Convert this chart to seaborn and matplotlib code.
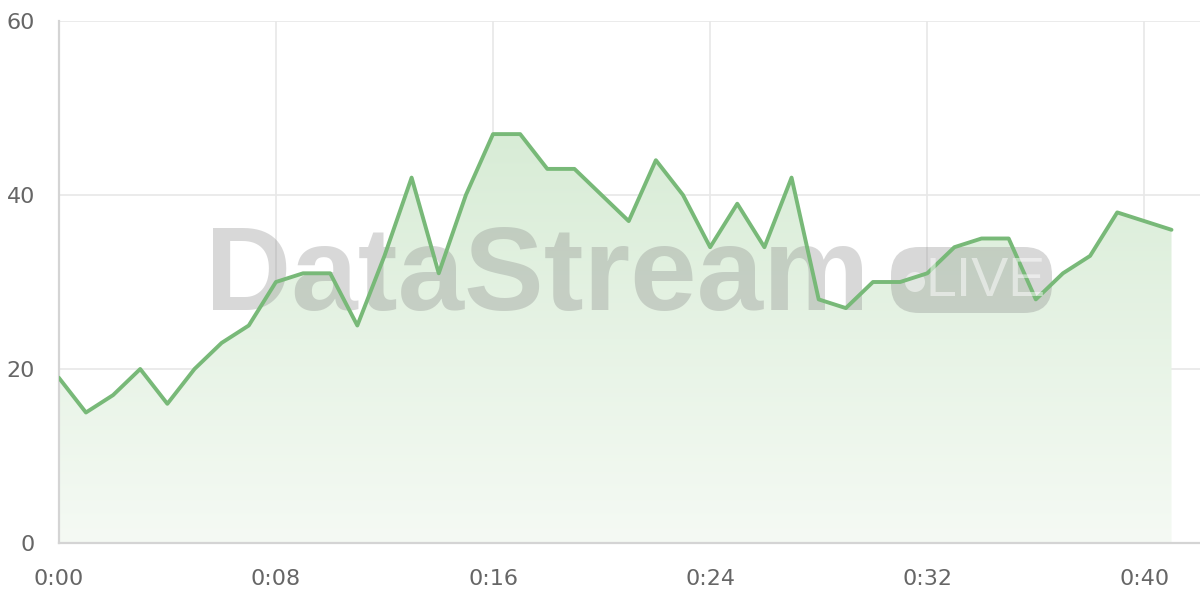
import numpy as np
import pandas as pd
import matplotlib
matplotlib.use("Agg")
import matplotlib.pyplot as plt
import seaborn as sns
from matplotlib.patches import FancyBboxPatch, Circle, Polygon

# data: one reading per minute, 0:00 .. 0:41
minutes = list(range(42))
values = [19, 15, 17, 20, 16, 20, 23, 25, 30, 31, 31, 25, 33, 42, 31, 40, 47, 47, 43, 43,
          40, 37, 44, 40, 34, 39, 34, 42, 28, 27, 30, 30, 31, 34, 35, 35, 28, 31, 33, 38,
          37, 36]
x_ticks = [0, 8, 16, 24, 32, 40]
x_labels = ["0:00", "0:08", "0:16", "0:24", "0:32", "0:40"]
y_ticks = [0, 20, 40, 60]

df = pd.DataFrame({"minute": minutes, "value": values})

sns.set_theme(style="white")
plt.rcParams["font.family"] = ["DejaVu Sans"]

fig = plt.figure(figsize=(12, 6), dpi=100)
ax = fig.add_axes([0.049, 0.095, 0.951, 0.87])

line_color = "#78b978"

# gradient fill under the line
grad = np.linspace(0.0, 1.0, 256).reshape(-1, 1)
cmap = matplotlib.colors.LinearSegmentedColormap.from_list(
    "g", ["#f5faf4", "#d8ecd6"])
img = ax.imshow(grad, extent=[0, 41, 0, max(values)], origin="lower",
                aspect="auto", cmap=cmap, zorder=1)
poly = Polygon(np.column_stack([[0] + minutes + [41], [0] + values + [0]]),
               closed=True, transform=ax.transData, facecolor="none", edgecolor="none")
ax.add_patch(poly)
img.set_clip_path(poly)

# watermark
ax.text(0.128, 0.505, "DataStream", transform=ax.transAxes, fontsize=86,
        fontweight="bold", family="Liberation Sans", color="#808080", alpha=0.3,
        ha="left", va="center", zorder=2)
pill = FancyBboxPatch((891, 600 - 313), 161, 66, boxstyle="round,pad=0,rounding_size=28",
                      transform=None, facecolor="#808080", alpha=0.3,
                      edgecolor="none", zorder=2)
ax.add_artist(pill)
ax.add_artist(Circle((915, 600 - 282), 10, transform=None, facecolor="white",
                     alpha=0.5, edgecolor="none", zorder=2))
fig.text(986 / 1200, 1 - 282 / 600, "LIVE", fontsize=40,
         family=["Liberation Sans Narrow", "Liberation Sans"],
         color="white", alpha=0.5, ha="center", va="center", zorder=3)

sns.lineplot(data=df, x="minute", y="value", ax=ax, color=line_color,
             linewidth=2.8, zorder=4)

ax.set_xlim(0, 42.05)
ax.set_ylim(0, 60)
ax.set_xticks(x_ticks)
ax.set_xticklabels(x_labels)
ax.set_yticks(y_ticks)
ax.set_xlabel("")
ax.set_ylabel("")

ax.grid(True, color="#e8e8e8", linewidth=1.2, zorder=0)
ax.set_axisbelow(True)
for side in ["top", "right"]:
    ax.spines[side].set_visible(False)
ax.spines["left"].set_color("#d4d4d4")
ax.spines["bottom"].set_color("#d4d4d4")
ax.spines["left"].set_linewidth(1.6)
ax.spines["bottom"].set_linewidth(1.6)
ax.tick_params(axis="both", which="both", length=11, width=1.2, color="#e8e8e8",
               labelsize=16, labelcolor="#666666")
ax.tick_params(axis="x", pad=8)
ax.tick_params(axis="y", pad=6)

fig.savefig("out.png", dpi=100)
